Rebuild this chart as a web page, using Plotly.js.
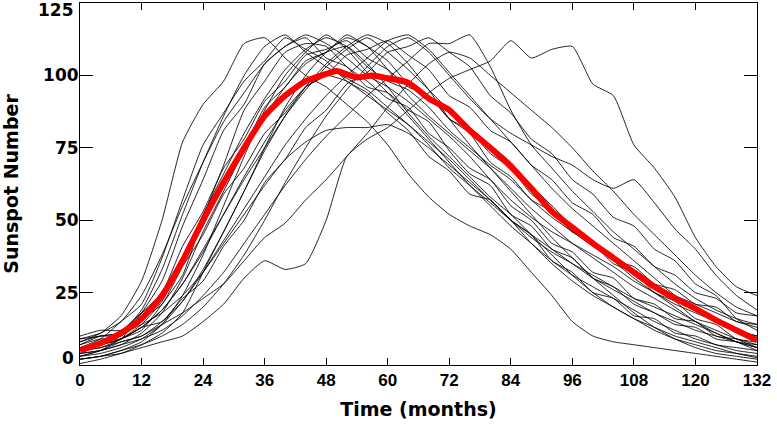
<!DOCTYPE html>
<html>
<head>
<meta charset="utf-8">
<script src="https://cdn.plot.ly/plotly-3.0.1.min.js"></script>
<style>
html,body{margin:0;padding:0;background:#fff;}
#chart{width:777px;height:424px;}
</style>
</head>
<body>
<div id="chart"></div>
<script>
// months since cycle start
const months = [0,4,8,12,16,20,24,28,32,36,40,44,48,52,56,60,64,68,72,76,80,84,88,92,96,100,104,108,112,116,120,124,128,132];

// individual cycles (sunspot number)
const cycle1  = [8,11,17,29,50,77,90,98,111,113,106,100,96,90,84,76,66,58,52,48,45,40,32,24,15,10,8,7,6,5,4,3,2,1];
const cycle2  = [6,9,15,21,37,57,76,87,98,105,113,109,105,98,94,87,81,72,67,59,57,50,45,36,32,25,23,17,16,11,10,7,6,5];
const cycle3  = [4,7,9,18,29,48,64,81,90,104,110,113,106,103,96,94,88,84,74,66,62,52,48,40,37,30,27,21,18,14,13,9,8,6];
const cycle4  = [3,5,9,12,21,31,51,69,88,98,108,111,110,103,98,92,89,80,75,68,64,55,50,42,39,32,30,23,21,16,15,10,9,7];
const cycle5  = [9,11,15,24,38,55,70,84,94,104,110,114,111,106,100,96,91,85,79,72,64,57,51,46,42,38,34,29,25,21,18,15,12,10];
const cycle6  = [5,6,9,14,22,36,52,66,80,92,102,109,113,110,103,98,95,89,81,75,69,64,57,51,46,41,37,33,28,24,21,18,15,13];
const cycle7  = [2,3,5,8,14,24,38,55,72,88,100,108,114,109,101,94,86,78,70,62,55,48,42,36,31,27,23,19,15,12,9,7,5,4];
const cycle8  = [7,10,11,18,25,41,53,68,78,91,98,107,109,112,106,102,96,93,85,81,73,68,59,54,46,43,36,34,28,26,21,20,15,14];
const cycle9  = [4,5,7,11,18,30,46,60,74,86,96,104,108,110,104,96,87,79,72,65,58,52,45,38,31,25,20,16,12,9,7,5,4,3];
const cycle10 = [10,12,12,18,23,36,48,64,75,89,96,105,108,114,110,105,97,93,85,80,70,65,57,53,46,42,35,32,25,22,16,14,9,8];
const cycle11 = [6,7,9,13,19,28,40,52,64,75,86,95,103,109,113,108,102,95,88,82,76,70,62,55,48,42,36,30,25,20,15,11,8,6];
const cycle12 = [3,4,6,9,14,22,33,46,60,74,86,96,104,110,114,111,104,95,85,76,68,60,52,44,37,30,24,18,13,9,6,4,3,2];
const cycle13 = [8,10,10,16,21,34,45,59,68,80,87,96,100,107,109,112,107,102,93,89,81,77,69,64,56,52,44,41,34,31,25,23,18,17];
const cycle14 = [5,6,8,10,15,22,32,43,54,65,76,85,93,100,106,112,114,109,101,93,85,77,69,61,54,48,42,36,30,24,19,15,12,10];
const cycle15 = [3,5,8,10,14,18,23,28,36,44,49,57,64,72,80,89,97,104,108,106,100,94,88,82,75,67,60,52,45,38,31,25,20,17];
const cycle16 = [0.5,2,4,6,8,10,15,21,30,36,33,35,50,72,78,82,88,94,99,102,105,112,106,109,110,97,93,76,68,58,44,34,27,24];
const cycle17 = [7,9,9,13,15,23,29,41,50,63,71,82,88,97,101,108,110,113,108,103,93,87,78,73,64,59,51,48,40,36,28,24,16,12];
const cycle18 = [4,5,7,9,12,17,24,32,42,52,62,71,79,86,93,99,105,111,111,114,103,88,76,68,60,53,46,40,34,28,23,19,16,14];
const cycle19 = [5,7,11,19,33,52,70,86,100,110,114,108,103,99,95,89,83,76,68,62,56,50,45,40,35,30,26,22,18,15,12,10,8,7];
const cycle20 = [9,10,11,14,18,24,32,42,52,62,71,77,81,82,82,83,80,75,69,63,57,50,42,35,29,24,20,16,13,10,8,6,4,2.5];
const cycle21 = [6,7,9,13,19,28,39,52,65,77,88,96,100,98,93,88,83,77,71,64,57,50,44,39,35,31,27,23,20,17,14,11,8,5];
const cycle22 = [2,3,5,7,10,14,20,28,38,50,63,75,86,95,103,110,113,108,100,92,85,80,76,72,69,64,61,64,56,47,40,31,24,19];
const cycle23 = [2,3,4,7,11,18,32,46,60,75,89,100,108,113,110,102,93,86,80,74,68,61,54,48,42,37,32,27,23,19,15,12,9,6];

// average cycle
const meanMonths = [0,4,8,12,16,20,24,28,32,36,40,44,48,50,54,57,60,64,68,72,76,80,84,88,92,96,100,104,108,112,116,120,124,128,132];
const meanCycle  = [5,7.5,11,16,24,36,50,63,75,86,93,98,100.5,101.5,99.3,100,99,97.5,92,88,81,75,68.5,61,53,47.5,42,37,32,27,23,19.5,15.5,12,8.5];

const xTicks = [0,12,24,36,48,60,72,84,96,108,120,132];
const yTicks = [0,25,50,75,100,125];

const cycles = [cycle1,cycle2,cycle3,cycle4,cycle5,cycle6,cycle7,cycle8,cycle9,cycle10,cycle11,cycle12,
                cycle13,cycle14,cycle15,cycle16,cycle17,cycle18,cycle19,cycle20,cycle21,cycle22,cycle23];

const traces = cycles.map(c => ({
  x: months, y: c, type: 'scatter', mode: 'lines',
  line: {color: 'rgba(0,0,0,0.85)', width: 1, shape: 'spline', smoothing: 0.5},
  hoverinfo: 'skip', showlegend: false
}));
traces.push({
  x: meanMonths, y: meanCycle, type: 'scatter', mode: 'lines',
  line: {color: 'rgb(255,0,0)', width: 6, shape: 'spline', smoothing: 0.6},
  hoverinfo: 'skip', showlegend: false
});

const xTickFont = {family: 'Liberation Sans, Arial, sans-serif', size: 17, color: '#000', weight: 'bold'};
const yTickFont = {family: 'DejaVu Sans, sans-serif', size: 17, color: '#000', weight: 'bold'};
const titleFont = {family: 'DejaVu Sans, sans-serif', size: 19, color: '#000', weight: 'bold'};

// end labels of the y axis sit inside the frame, as in the original
const innerY = yTicks.slice(1, -1);
const endY = [yTicks[0], yTicks[yTicks.length - 1]];
const annotations = endY.map((v, i) => ({
  xref: 'paper', yref: 'y', x: 0, y: v,
  text: String(v), showarrow: false,
  xanchor: 'right', yanchor: 'middle', xshift: -4,
  yshift: i === 0 ? 7 : -7,
  font: yTickFont
}));

const layout = {
  width: 777, height: 424,
  margin: {l: 80, r: 20, t: 3, b: 59},
  paper_bgcolor: '#fff', plot_bgcolor: '#fff',
  showlegend: false,
  annotations: annotations,
  xaxis: {
    range: [0, 132], tickvals: xTicks, ticktext: xTicks.map(String),
    ticks: 'inside', ticklen: 7, tickwidth: 1, tickcolor: '#000',
    showline: true, linecolor: '#000', linewidth: 1, mirror: 'ticks',
    showgrid: false, zeroline: false, tickfont: xTickFont,
    title: {text: 'Time (months)', font: titleFont, standoff: 13},
    automargin: false
  },
  yaxis: {
    range: [0, 125], tickvals: innerY, ticktext: innerY.map(String),
    ticks: 'inside', ticklen: 13, tickwidth: 1, tickcolor: '#000',
    showline: true, linecolor: '#000', linewidth: 1, mirror: 'ticks',
    showgrid: false, zeroline: false, tickfont: yTickFont,
    ticklabelstandoff: -3,
    title: {text: 'Sunspot Number', font: titleFont, standoff: 19},
    automargin: false
  }
};

Plotly.newPlot('chart', traces, layout, {displayModeBar: false, staticPlot: true});
</script>
</body>
</html>
